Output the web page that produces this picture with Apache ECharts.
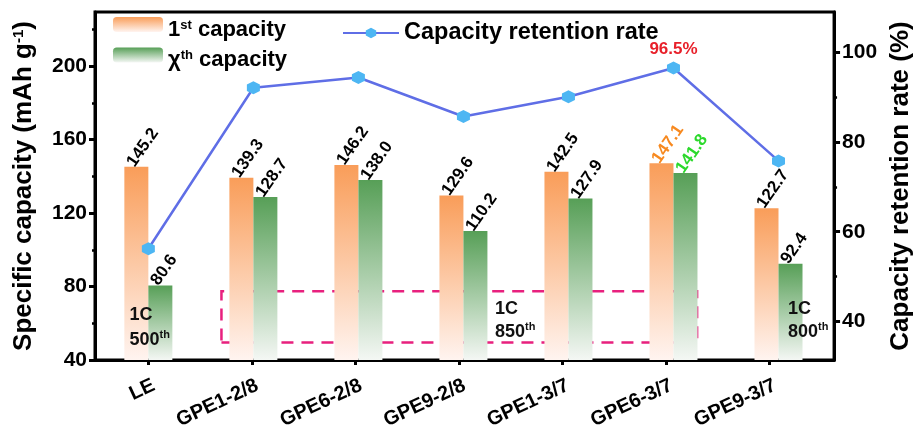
<!DOCTYPE html>
<html>
<head>
<meta charset="utf-8">
<script src="https://cdn.jsdelivr.net/npm/echarts@6/dist/echarts.min.js"></script>
<style>
  html, body { margin: 0; padding: 0; background: #fff; }
  #chart { width: 922px; height: 432px; }
</style>
</head>
<body>
<div id="chart"></div>
<script>
// Electrolyte samples along the x axis
const categories = ['LE', 'GPE1-2/8', 'GPE6-2/8', 'GPE9-2/8', 'GPE1-3/7', 'GPE6-3/7', 'GPE9-3/7'];
// Discharge capacity of the first cycle (mAh g-1)
const firstCapacity = [145.2, 139.3, 146.2, 129.6, 142.5, 147.1, 122.7];
// Discharge capacity after the last cycle (mAh g-1)
const lastCapacity = [80.6, 128.7, 138.0, 110.2, 127.9, 141.8, 92.4];
// Capacity retention (%)
const retention = [56.2, 92.1, 94.4, 85.7, 90.1, 96.5, 75.8];
// Tick labels
const leftTicks = [40, 80, 120, 160, 200];
const leftMinorTicks = [60, 100, 140, 180, 220];
const rightTicks = [40, 60, 80, 100];
const rightMinorTicks = [50, 70, 90];

const FONT = 'Liberation Sans, Arial, sans-serif';
const hexagon = 'path://M0,-1 L0.866,-0.5 L0.866,0.5 L0,1 L-0.866,0.5 L-0.866,-0.5 Z';

// category ticks sit on a slightly tighter pitch than the bar groups
const TICK_PITCH = 0.986;
const idx = categories.map((_, i) => i);
const tickPos = idx.map(i => i * TICK_PITCH);

const orangeFill = new echarts.graphic.LinearGradient(0, 0, 0, 1, [
  { offset: 0, color: '#F99D59' },
  { offset: 1, color: '#FFF4F0' }
]);
const greenFill = new echarts.graphic.LinearGradient(0, 0, 0, 1, [
  { offset: 0, color: '#579F57' },
  { offset: 1, color: '#F4F7F4' }
]);

const barLabel = {
  show: true,
  position: 'top',
  distance: 10,
  rotate: 55,
  align: 'left',
  verticalAlign: 'middle',
  offset: [-10, 0],
  fontFamily: FONT,
  fontWeight: 'bold',
  fontSize: 17,
  color: '#000',
  formatter: p => p.value[1].toFixed(1)
};

const firstData = firstCapacity.map((v, i) => {
  const d = { value: [i, v] };
  if (categories[i] === 'GPE6-3/7') d.label = { color: '#F7891F' };
  return d;
});
const lastData = lastCapacity.map((v, i) => {
  const d = { value: [i, v] };
  if (categories[i] === 'GPE6-3/7') d.label = { color: '#2BD92B' };
  return d;
});
const retentionData = retention.map((v, i) => {
  const d = { value: [i, v] };
  if (categories[i] === 'GPE6-3/7') {
    d.label = {
      show: true, position: 'top', distance: 4,
      formatter: v.toFixed(1) + '%',
      color: '#E8202A', fontFamily: FONT, fontWeight: 'bold', fontSize: 17
    };
  }
  return d;
});

const axisLineStyle = { color: '#000', width: 3 };
const tickLabel = { fontFamily: FONT, fontWeight: 'bold', fontSize: 21, color: '#000' };
const nameStyle = { fontFamily: FONT, fontWeight: 'bold', fontSize: 26, color: '#000' };

const chart = echarts.init(document.getElementById('chart'), null, { renderer: 'canvas' });

const option = {
  animation: false,
  backgroundColor: '#fff',
  grid: {
    left: 95, right: 79, top: 12, bottom: 72,
    show: true, borderColor: '#000', borderWidth: 3, backgroundColor: 'transparent'
  },
  legend: [
    {
      data: ['1st capacity', 'xth capacity'],
      left: 113, top: 17, orient: 'vertical', padding: 0,
      itemWidth: 50, itemHeight: 15, itemGap: 7,
      selectedMode: false,
      formatter: n => n === '1st capacity'
        ? '{b|1}{s|st}{b| capacity}'
        : '{b|\u03C7}{s|th}{b| capacity}',
      textStyle: {
        fontFamily: FONT, fontWeight: 'bold', fontSize: 22, color: '#000',
        padding: [10, 0, 0, 0],
        rich: {
          b: { fontFamily: FONT, fontWeight: 'bold', fontSize: 22, lineHeight: 22, color: '#000' },
          s: { fontFamily: FONT, fontWeight: 'bold', fontSize: 13, lineHeight: 13, verticalAlign: 'top', color: '#000' }
        }
      }
    },
    {
      data: ['Capacity retention rate'],
      left: 342, top: 21, padding: 0,
      itemWidth: 56, itemHeight: 13,
      selectedMode: false,
      textStyle: { fontFamily: FONT, fontWeight: 'bold', fontSize: 23.5, color: '#000' }
    }
  ],
  xAxis: {
    type: 'value',
    min: -0.508, max: 6.529,
    splitLine: { show: false },
    axisLine: { show: true, onZero: false, lineStyle: axisLineStyle },
    axisTick: { show: true, length: 5, lineStyle: { width: 3, color: '#000' }, customValues: tickPos },
    axisLabel: {
      ...tickLabel, fontSize: 20, rotate: 25, margin: 27,
      padding: [0, -6, 0, 0],
      customValues: tickPos,
      formatter: v => categories[Math.round(v / TICK_PITCH)]
    }
  },
  yAxis: [
    {
      type: 'value', position: 'left',
      min: 40, max: 229.5,
      name: 'Specific capacity (mAh g{s|-1})',
      nameLocation: 'middle', nameGap: 58,
      nameTextStyle: {
        ...nameStyle,
        rich: {
          s: { fontFamily: FONT, fontWeight: 'bold', fontSize: 15, verticalAlign: 'top', lineHeight: 15, color: '#000' }
        }
      },
      splitLine: { show: false },
      axisLine: { show: true, onZero: false, lineStyle: axisLineStyle },
      axisTick: { show: true, length: 6, lineStyle: { width: 3, color: '#000' }, customValues: leftTicks },
      axisLabel: { ...tickLabel, margin: 8, customValues: leftTicks }
    },
    {
      type: 'value', position: 'right',
      min: 31.4, max: 109,
      name: 'Capacity retention rate (%)',
      nameLocation: 'middle', nameGap: 48, nameRotate: 90,
      nameTextStyle: nameStyle,
      splitLine: { show: false },
      axisLine: { show: true, onZero: false, lineStyle: axisLineStyle },
      axisTick: { show: true, length: 6, lineStyle: { width: 3, color: '#000' }, customValues: rightTicks },
      axisLabel: { ...tickLabel, margin: 8, customValues: rightTicks }
    },
    {
      // minor ticks of the capacity axis
      type: 'value', position: 'left',
      min: 40, max: 229.5,
      splitLine: { show: false },
      axisLine: { show: false, onZero: false },
      axisTick: { show: true, length: 3, lineStyle: { width: 2.5, color: '#000' }, customValues: leftMinorTicks },
      axisLabel: { show: false, customValues: leftMinorTicks }
    },
    {
      // minor ticks of the retention axis
      type: 'value', position: 'right',
      min: 31.4, max: 109,
      splitLine: { show: false },
      axisLine: { show: false, onZero: false },
      axisTick: { show: true, length: 3, lineStyle: { width: 2.5, color: '#000' }, customValues: rightMinorTicks },
      axisLabel: { show: false, customValues: rightMinorTicks }
    }
  ],
  series: [
    {
      name: '1st capacity', type: 'bar', yAxisIndex: 0,
      barWidth: 24, barGap: '0%',
      itemStyle: { color: orangeFill },
      label: barLabel,
      data: firstData
    },
    {
      name: 'xth capacity', type: 'bar', yAxisIndex: 0,
      barWidth: 24, barGap: '0%',
      itemStyle: { color: greenFill },
      label: barLabel,
      data: lastData,
      markArea: {
        silent: true,
        itemStyle: { color: 'rgba(0,0,0,0)', borderColor: '#E8207E', borderWidth: 2.5, borderType: [12, 8] },
        data: [[{ coord: [0.696, 77.5] }, { coord: [5.225, 49.5] }]]
      }
    },
    {
      name: 'Capacity retention rate', type: 'line', yAxisIndex: 1,
      symbol: hexagon, symbolSize: 13,
      itemStyle: { color: '#4DB6F3' },
      lineStyle: { color: '#5F6EE6', width: 2.5 },
      z: 5,
      data: retentionData
    }
  ]
};

chart.setOption(option);

// Cycling notes placed in data coordinates of the capacity axis
const notes = [
  { x: -0.179, y: 64.5, text: '1C' },
  { x: -0.179, y: 51, text: '{n|500}{s|th}' },
  { x: 3.3, y: 68, text: '1C' },
  { x: 3.3, y: 55.5, text: '{n|850}{s|th}' },
  { x: 6.09, y: 68, text: '1C' },
  { x: 6.09, y: 55.5, text: '{n|800}{s|th}' }
];
const noteRich = {
  n: { fontFamily: FONT, fontWeight: 'bold', fontSize: 18, lineHeight: 20, color: '#111' },
  s: { fontFamily: FONT, fontWeight: 'bold', fontSize: 11, lineHeight: 11, verticalAlign: 'top', color: '#111' }
};
chart.setOption({
  graphic: notes.map(n => {
    const p = chart.convertToPixel({ xAxisIndex: 0, yAxisIndex: 0 }, [n.x, n.y]);
    return {
      type: 'text', x: p[0], y: p[1], z: 10,
      style: {
        text: n.text, rich: noteRich,
        fontFamily: FONT, fontWeight: 'bold', fontSize: 18, fill: '#111',
        verticalAlign: 'middle', align: 'left'
      }
    };
  })
});
</script>
</body>
</html>
